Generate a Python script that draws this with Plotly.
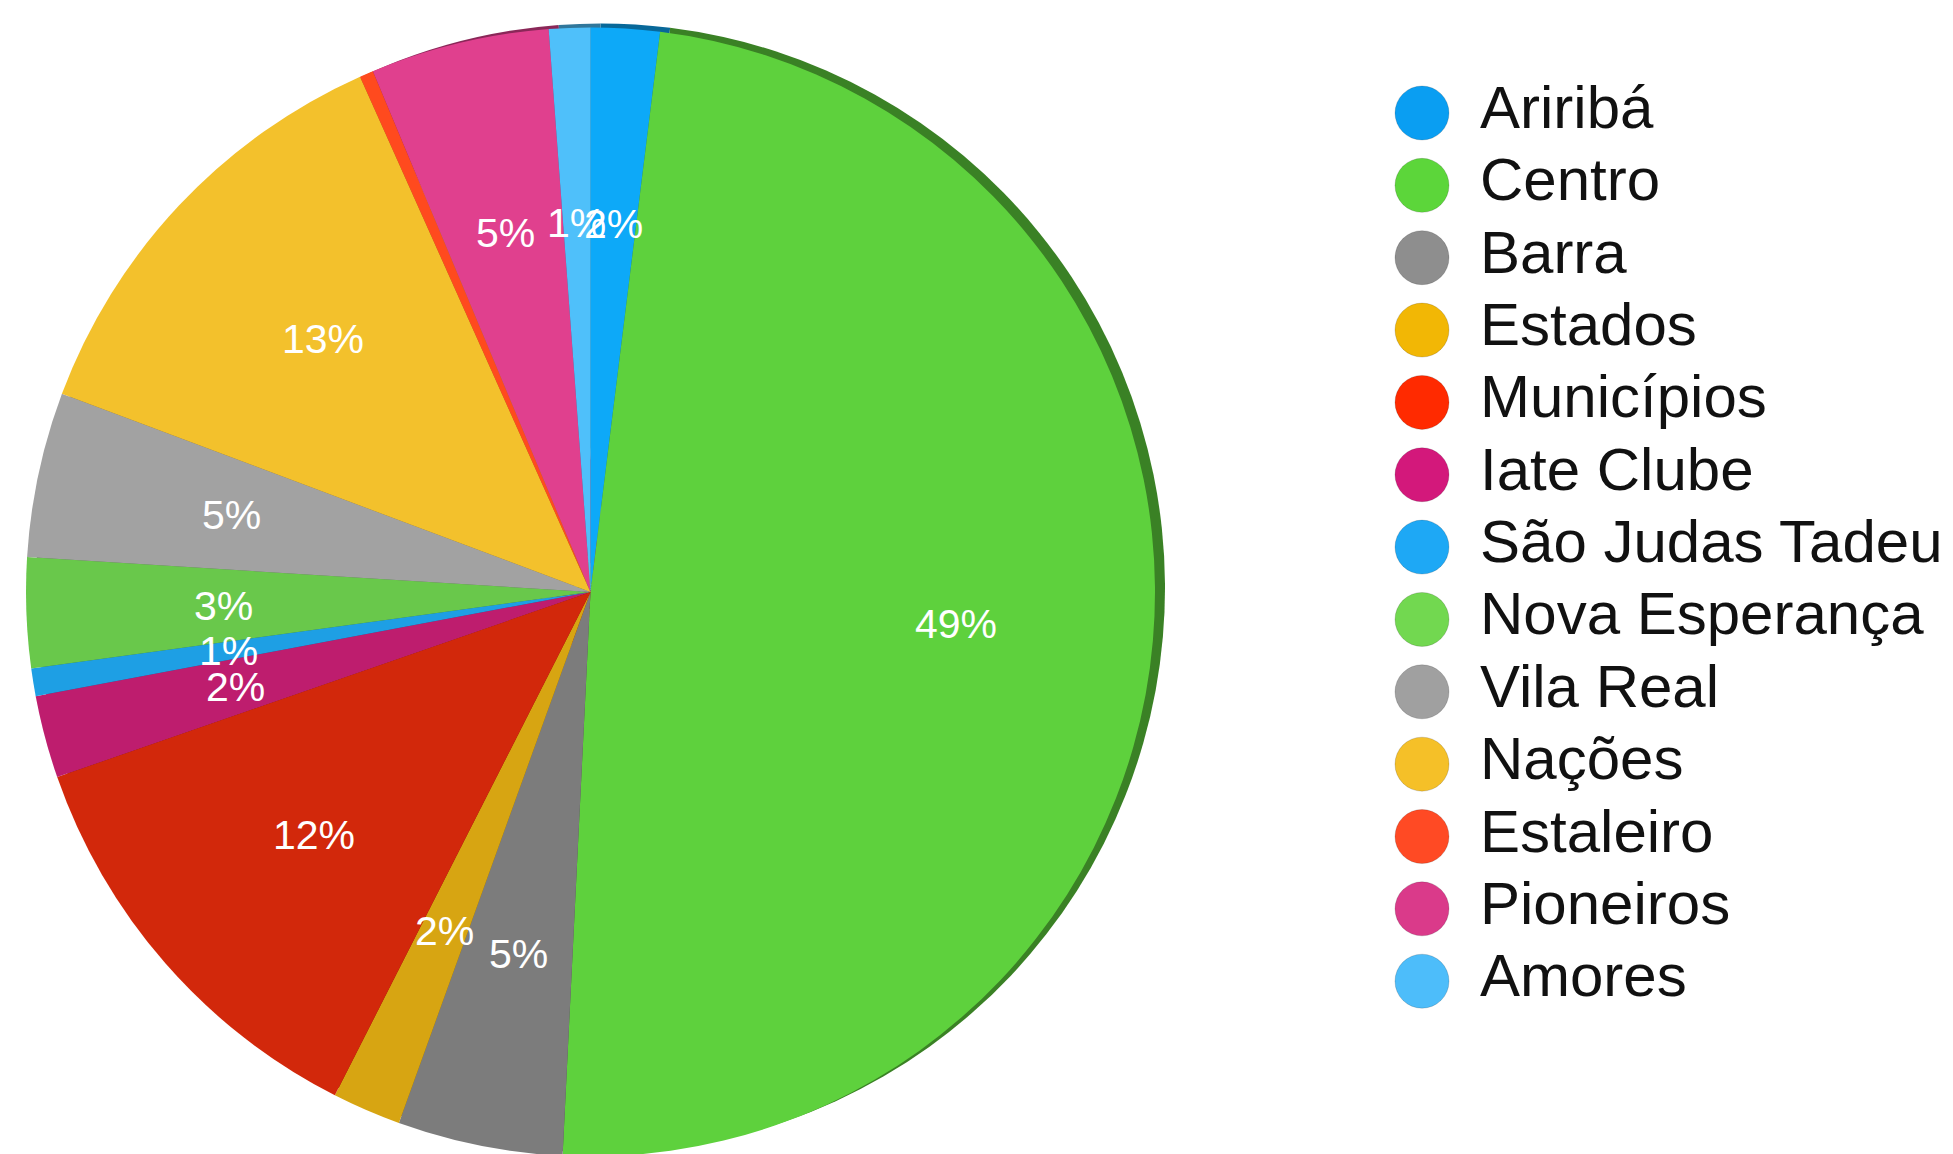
import plotly.graph_objects as go
import numpy as np

# ---- data ----
bairros = ["Ariribá", "Centro", "Barra", "Estados", "Municípios", "Iate Clube",
           "São Judas Tadeu", "Nova Esperança", "Vila Real", "Nações",
           "Estaleiro", "Pioneiros", "Amores"]
respostas = [5, 124, 12, 5, 31, 6, 2, 8, 12, 32, 1, 13, 3]

# ---- style ----
slice_colors = ["#0DA9F8", "#5ED13D", "#7C7C7C", "#D7A512", "#D2280B", "#BE1D6E",
                "#1E9FE4", "#69C84B", "#A2A2A2", "#F3C12C", "#FF4A1E", "#E0408E", "#4FC0FA"]
legend_colors = ["#0A9EF2", "#5CD63A", "#8E8E8E", "#F2B705", "#FF2A00", "#D3187B",
                 "#1EA8F5", "#72D850", "#A0A0A0", "#F5C028", "#FF4A24", "#DA3A8A", "#4DBDFA"]
FONT = "Liberation Sans, Arial, sans-serif"

def darker(hexc, f=0.62):
    h = hexc.lstrip("#")
    r, g, b = int(h[0:2], 16), int(h[2:4], 16), int(h[4:6], 16)
    return "#%02x%02x%02x" % (int(r * f), int(g * f), int(b * f))

W, H = 1953, 1154
vals = np.array(respostas, dtype=float)
pct = vals / vals.sum() * 100
labels_txt = [f"{int(round(p))}%" if round(p) >= 1 else "" for p in pct]
cum = np.cumsum(vals) - vals / 2
mid_theta = np.deg2rad(cum / vals.sum() * 360)
R_LAB = 0.65

# pie face geometry (pixels)
x0, x1, yt, yb = 18, 1147, 16, 1152
face_dom = dict(x=[x0 / W, x1 / W], y=[1 - yb / H, 1 - yt / H])
sdx, sdy = 10, 4
shadow_dom = dict(x=[(x0 + sdx) / W, (x1 + sdx) / W], y=[1 - (yb - sdy) / H, 1 - (yt - sdy) / H])

fig = go.Figure()

# 3D rim (shadow pie)
fig.add_trace(go.Pie(
    labels=bairros, values=respostas, sort=False, direction="clockwise", rotation=0,
    marker=dict(colors=[darker(c) for c in slice_colors], line=dict(width=0)),
    textinfo="none", showlegend=False, hoverinfo="skip", domain=shadow_dom,
))

# main pie
fig.add_trace(go.Pie(
    labels=bairros, values=respostas, sort=False, direction="clockwise", rotation=0,
    marker=dict(colors=slice_colors, line=dict(width=0)),
    textinfo="none", showlegend=False, domain=face_dom,
))

# legend built as scatter
idx = -np.arange(len(bairros))
fig.add_trace(go.Scatter(
    x=[0] * len(bairros), y=idx, mode="markers",
    marker=dict(size=54, color=legend_colors, line=dict(width=1, color="rgba(0,0,0,0.15)")),
    showlegend=False, hoverinfo="skip",
))
fig.add_trace(go.Scatter(
    x=[1] * len(bairros), y=idx, mode="text", text=bairros, textposition="middle right",
    textfont=dict(family=FONT, size=60, color="#111111"),
    showlegend=False, hoverinfo="skip",
))

# percentage labels as annotations on an axis spanning the pie face
for t, th in zip(labels_txt, mid_theta):
    if not t:
        continue
    fig.add_annotation(
        x=R_LAB * np.sin(th), y=R_LAB * np.cos(th), xref="x2", yref="y2",
        text=t, showarrow=False,
        font=dict(family=FONT, size=41, color="white"),
    )

leg_x0 = 0.70
px_leg = 58.0
lx = 1414.0
xr = [(leg_x0 * W - lx) / px_leg, (W - lx) / px_leg]
row = 72.35
ytop = 105.0
yr = [-(H - ytop) / row, ytop / row]

fig.update_layout(
    width=W, height=H, margin=dict(l=0, r=0, t=0, b=0),
    paper_bgcolor="white", plot_bgcolor="rgba(0,0,0,0)",
    xaxis=dict(domain=[leg_x0, 1], range=xr, visible=False, fixedrange=True),
    yaxis=dict(domain=[0, 1], range=yr, visible=False, fixedrange=True),
    xaxis2=dict(domain=face_dom["x"], range=[-1, 1], visible=False, fixedrange=True, anchor="y2"),
    yaxis2=dict(domain=face_dom["y"], range=[-1, 1], visible=False, fixedrange=True, anchor="x2"),
)

fig.write_html("out.html")
